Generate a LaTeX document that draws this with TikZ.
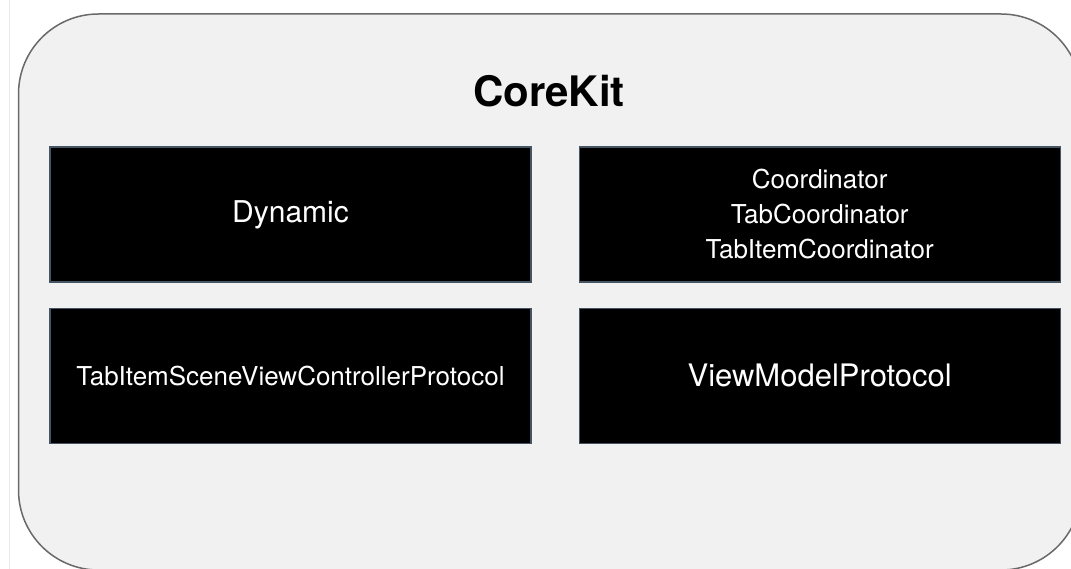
\documentclass[tikz,border=0pt]{standalone}
\usepackage{fontspec}
\setmainfont{TeX Gyre Heros}
\usetikzlibrary{positioning}
\definecolor{kitgray}{RGB}{241,241,241}
\definecolor{kitedge}{RGB}{105,105,105}
\definecolor{modedge}{RGB}{70,85,100}

\begin{document}
\begin{tikzpicture}[x=1pt,y=-1pt,node distance=25pt and 47pt,inner sep=0pt]
\tikzstyle{kit}=[rounded corners=80pt, fill=kitgray, draw=kitedge, line width=1.5pt]
\tikzstyle{module}=[rectangle, fill=black, draw=modedge, line width=1.2pt, minimum width=481pt, minimum height=135pt, text=white, align=center]
\useasboundingbox (0,0) rectangle (1071,569);
\draw[black!8] (9,0) -- (9,569);
\draw[kit] (18.5,14) rectangle (1081,570);
\node[font=\bfseries\fontsize{42}{50}\selectfont] (title) at (549,91) {CoreKit};
\node[module,font=\fontsize{30}{36}\selectfont] (dyn) at (290.5,214.5) {Dynamic};
\node[module,font=\fontsize{26}{35}\selectfont] (coord) [right=of dyn] {Coordinator\\TabCoordinator\\TabItemCoordinator};
\node[module,font=\fontsize{26}{32}\selectfont] (scene) [below=of dyn] {TabItemSceneViewControllerProtocol};
\node[module,font=\fontsize{31}{37}\selectfont] (vm) [below=of coord] {ViewModelProtocol};
\end{tikzpicture}
\end{document}
